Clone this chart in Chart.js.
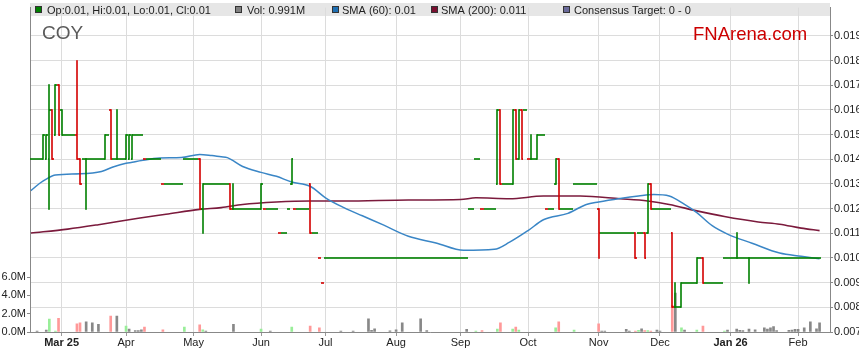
<!DOCTYPE html>
<html>
<head>
<meta charset="utf-8">
<script src="https://cdn.jsdelivr.net/npm/chart.js@4.4.1/dist/chart.umd.min.js"></script>
<style>
  html, body { margin: 0; padding: 0; background: #fff; }
  #wrap { width: 859px; height: 363px; }
</style>
</head>
<body>
<div id="wrap"><canvas id="chart" width="859" height="363"></canvas></div>
<script>
// Trading-day index 0 = 17 Feb 2025, one step per weekday
const monthTickIdx = [10, 31, 53, 75, 96, 119, 140, 162, 185, 205, 228, 250];
const monthTickLabels = ['Mar 25', 'Apr', 'May', 'Jun', 'Jul', 'Aug', 'Sep', 'Oct', 'Nov', 'Dec', 'Jan 26', 'Feb'];
const boldTickIdx = [10, 228];

const priceTicks = [0.007, 0.008, 0.009, 0.010, 0.011, 0.012, 0.013, 0.014, 0.015, 0.016, 0.017, 0.018, 0.019];
const volTicksM = [0, 2, 4, 6];

// Daily OHLC (A$)
const opens = [
  .014,.014,.014,.014,.014,.014,.014,.016,.015,.017,
  .016,.015,.015,.015,.015,.015,.014,.014,.014,.014,
  .014,.014,.014,.014,.014,.015,.016,.014,.014,.014,
  .014,.014,.014,.014,.015,.015,.015,.014,.014,.014,
  .014,.014,.014,.013,.013,.013,.013,.013,.013,.013,
  .014,.014,.014,.014,.014,.014,.012,.013,.013,.013,
  .013,.013,.013,.013,.013,.013,.012,.012,.012,.012,
  .012,.012,.012,.012,.012,.012,.012,.012,.012,.012,
  .012,.011,.011,.011,.012,.013,.012,.012,.012,.012,
  .012,.013,.011,.011,.010,.009,.010,.010,.010,.010,
  .010,.010,.010,.010,.010,.010,.010,.010,.010,.010,
  .010,.010,.010,.010,.010,.010,.010,.010,.010,.010,
  .010,.010,.010,.010,.010,.010,.010,.010,.010,.010,
  .010,.010,.010,.010,.010,.010,.010,.010,.010,.010,
  .010,.010,.010,.012,.012,.014,.014,.012,.012,.012,
  .012,.012,.013,.016,.013,.013,.013,.013,.016,.014,
  .016,.016,.014,.014,.014,.014,.015,.015,.012,.012,
  .012,.013,.014,.012,.012,.012,.012,.013,.013,.013,
  .013,.013,.013,.013,.013,.012,.011,.011,.011,.011,
  .011,.011,.011,.011,.011,.011,.011,.011,.011,.011,
  .011,.011,.013,.012,.012,.012,.012,.012,.012,.011,
  .008,.008,.008,.009,.009,.009,.009,.009,.010,.010,
  .009,.009,.009,.009,.009,.009,.010,.010,.010,.010,
  .010,.010,.010,.010,.010,.010,.010,.010,.010,.010,
  .010,.010,.010,.010,.010,.010,.010,.010,.010,.010,
  .010,.010,.010,.010,.010,.010,.010,.010
];
const highs = [
  .014,.014,.014,.014,.015,.015,.017,.016,.017,.017,
  .016,.015,.015,.015,.015,.018,.014,.014,.014,.014,
  .014,.014,.014,.014,.015,.015,.016,.014,.016,.014,
  .014,.015,.015,.015,.015,.015,.015,.014,.014,.014,
  .014,.014,.014,.013,.013,.013,.013,.013,.013,.013,
  .014,.014,.014,.014,.014,.014,.013,.013,.013,.013,
  .013,.013,.013,.013,.013,.013,.013,.012,.012,.012,
  .012,.012,.012,.012,.012,.013,.012,.012,.012,.012,
  .012,.011,.011,.011,.012,.014,.012,.012,.012,.012,
  .012,.013,.011,.011,.010,.009,.010,.010,.010,.010,
  .010,.010,.010,.010,.010,.010,.010,.010,.010,.010,
  .010,.010,.010,.010,.010,.010,.010,.010,.010,.010,
  .010,.010,.010,.010,.010,.010,.010,.010,.010,.010,
  .010,.010,.010,.010,.010,.010,.010,.010,.010,.010,
  .010,.010,.010,.012,.012,.014,.014,.012,.012,.012,
  .012,.012,.016,.016,.013,.013,.013,.016,.016,.016,
  .016,.016,.014,.015,.014,.015,.015,.015,.012,.012,
  .012,.014,.014,.012,.012,.012,.012,.013,.013,.013,
  .013,.013,.013,.013,.013,.012,.011,.011,.011,.011,
  .011,.011,.011,.011,.011,.011,.011,.011,.011,.011,
  .011,.013,.013,.012,.012,.012,.012,.012,.012,.011,
  .009,.008,.009,.009,.009,.009,.009,.010,.010,.010,
  .009,.009,.009,.009,.009,.009,.010,.010,.010,.010,
  .011,.010,.010,.010,.010,.010,.010,.010,.010,.010,
  .010,.010,.010,.010,.010,.010,.010,.010,.010,.010,
  .010,.010,.010,.010,.010,.010,.010,.010
];
const lows = [
  .014,.014,.014,.014,.014,.014,.012,.014,.015,.015,
  .015,.015,.015,.015,.015,.014,.013,.014,.012,.014,
  .014,.014,.014,.014,.014,.015,.014,.014,.014,.014,
  .014,.014,.014,.014,.015,.015,.015,.014,.014,.014,
  .014,.014,.014,.013,.013,.013,.013,.013,.013,.013,
  .014,.014,.014,.014,.014,.012,.011,.013,.013,.013,
  .013,.013,.013,.013,.013,.012,.012,.012,.012,.012,
  .012,.012,.012,.012,.012,.012,.012,.012,.012,.012,
  .012,.011,.011,.011,.012,.013,.012,.012,.012,.012,
  .012,.011,.011,.011,.010,.009,.010,.010,.010,.010,
  .010,.010,.010,.010,.010,.010,.010,.010,.010,.010,
  .010,.010,.010,.010,.010,.010,.010,.010,.010,.010,
  .010,.010,.010,.010,.010,.010,.010,.010,.010,.010,
  .010,.010,.010,.010,.010,.010,.010,.010,.010,.010,
  .010,.010,.010,.012,.012,.014,.014,.012,.012,.012,
  .012,.012,.013,.013,.013,.013,.013,.013,.014,.014,
  .014,.016,.014,.014,.014,.014,.015,.015,.012,.012,
  .012,.013,.012,.012,.012,.012,.012,.013,.013,.013,
  .013,.013,.013,.013,.013,.010,.011,.011,.011,.011,
  .011,.011,.011,.011,.011,.011,.011,.010,.011,.011,
  .010,.011,.012,.012,.012,.012,.012,.012,.012,.008,
  .008,.008,.008,.009,.009,.009,.009,.009,.010,.009,
  .009,.009,.009,.009,.009,.009,.010,.010,.010,.010,
  .010,.010,.010,.010,.009,.010,.010,.010,.010,.010,
  .010,.010,.010,.010,.010,.010,.010,.010,.010,.010,
  .010,.010,.010,.010,.010,.010,.010,.010
];
const closes = [
  .014,.014,.014,.014,.015,.015,.016,.014,.017,.015,
  .015,.015,.015,.015,.015,.014,.013,.014,.014,.014,
  .014,.014,.014,.014,.015,.015,.014,.014,.014,.014,
  .014,.015,.015,.015,.015,.015,.015,.014,.014,.014,
  .014,.014,.014,.013,.013,.013,.013,.013,.013,.013,
  .014,.014,.014,.014,.014,.012,.013,.013,.013,.013,
  .013,.013,.013,.013,.013,.012,.012,.012,.012,.012,
  .012,.012,.012,.012,.012,.013,.012,.012,.012,.012,
  .012,.011,.011,.011,.012,.014,.012,.012,.012,.012,
  .012,.011,.011,.011,.010,.009,.010,.010,.010,.010,
  .010,.010,.010,.010,.010,.010,.010,.010,.010,.010,
  .010,.010,.010,.010,.010,.010,.010,.010,.010,.010,
  .010,.010,.010,.010,.010,.010,.010,.010,.010,.010,
  .010,.010,.010,.010,.010,.010,.010,.010,.010,.010,
  .010,.010,.010,.012,.012,.014,.014,.012,.012,.012,
  .012,.012,.016,.013,.013,.013,.013,.016,.014,.016,
  .014,.016,.014,.014,.014,.015,.015,.015,.012,.012,
  .012,.014,.012,.012,.012,.012,.012,.013,.013,.013,
  .013,.013,.013,.013,.013,.011,.011,.011,.011,.011,
  .011,.011,.011,.011,.011,.011,.011,.010,.011,.011,
  .010,.013,.012,.012,.012,.012,.012,.012,.012,.008,
  .008,.008,.009,.009,.009,.009,.009,.010,.010,.009,
  .009,.009,.009,.009,.009,.009,.010,.010,.010,.010,
  .010,.010,.010,.010,.010,.010,.010,.010,.010,.010,
  .010,.010,.010,.010,.010,.010,.010,.010,.010,.010,
  .010,.010,.010,.010,.010,.010,.010,.010
];
// Daily volume, millions of shares
const volumesM = [
  0,0,0.1,0,0,0.2,1.4,0,0.1,1.5,
  0,0,0,0,0,0.9,1.0,0,1.1,0,
  1.0,0,0.85,0,0,0,1.75,0,1.75,0,
  0,0.65,0.33,0,0.15,0.15,0.25,0.55,0,0,
  0,0,0,0.25,0,0,0,0,0,0,
  0.55,0,0,0,0,0.78,0.25,0.1,0,0,
  0,0,0,0,0,0,0.85,0,0,0,
  0,0,0,0,0,0.33,0,0,0.1,0,
  0,0,0,0,0,0.55,0,0,0,0,
  0,0.65,0,0,0.45,0,0,0,0,0,
  0,0.1,0,0,0,0.1,0,0,0,0,
  1.45,0.18,0.35,0,0,0,0,0.12,0,0.25,
  0,1.0,0,0,0,0,0,1.45,0,0.15,
  0,0,0,0,0,0,0,0,0,0,
  0,0,0.3,0,0,0.1,0,0.15,0,0,
  0,0,0.33,1.0,0,0,0,0.33,0.55,0.2,
  0,0,0,0,0,0,0,0,0,0,
  0,0.45,1.1,0,0,0,0,0.22,0,0,
  0,0,0,0,0,0.88,0.1,0.1,0,0,
  0,0,0,0,0.3,0.1,0,0.1,0.18,0.35,
  0.15,0.15,0.1,0,0.2,0.1,0,0,0,2.9,
  4.25,0,0.45,0.2,0,0,0,0.2,0,0.65,
  0,0,0,0,0,0,0.1,0.2,0,0,
  0.33,0.18,0.15,0,0.33,0,0.25,0,0,0.45,
  0.33,0.45,0.58,0.15,0,0,0,0.18,0.22,0.3,
  0.3,0,0.45,0,1.1,0,0.35,1.0
];

// Moving averages at sample days
const sma60Idx = [0,3,5,8,16,23,27,31,33,36,42,49,55,59,62,64,69,75,80,85,91,96,102,108,115,123,132,141,151,156,162,167,175,181,185,192,198,203,208,213,217,222,227,235,244,251,257];
const sma60Val = [0.01273,0.01304,0.0132,0.01336,0.01341,0.01351,0.0137,0.01384,0.01388,0.01395,0.01405,0.01407,0.0142,0.01415,0.0141,0.01407,0.01371,0.01347,0.01331,0.01308,0.01291,0.01244,0.01204,0.01171,0.01133,0.01088,0.01061,0.01031,0.01035,0.01064,0.01111,0.01155,0.01181,0.01217,0.01227,0.01241,0.01251,0.01257,0.01251,0.01217,0.01184,0.01131,0.01097,0.0106,0.0102,0.01007,0.00997];
const sma200Idx = [0,12,22,35,44,55,62,69,80,91,102,123,140,145,156,167,179,192,201,208,217,226,237,244,251,257];
const sma200Val = [0.01101,0.01117,0.01135,0.01161,0.01177,0.01197,0.01204,0.01217,0.01227,0.01231,0.01231,0.01235,0.01237,0.01244,0.0124,0.01251,0.01251,0.0124,0.01231,0.01217,0.01191,0.01168,0.01146,0.01137,0.01121,0.01111];

const legendItems = [
  { sq: 35, tx: 47, color: '#008000', text: 'Op:0.01, Hi:0.01, Lo:0.01, Cl:0.01' },
  { sq: 235, tx: 247, color: '#808080', text: 'Vol: 0.991M' },
  { sq: 332, tx: 342, color: '#1f6fb2', text: 'SMA (60): 0.01' },
  { sq: 431, tx: 441, color: '#7a0f30', text: 'SMA (200): 0.011' },
  { sq: 563, tx: 574, color: '#6a6a9a', text: 'Consensus Target: 0 - 0' }
];

const FONT = '"Liberation Sans", Arial, sans-serif';
const UP = '#008000', DOWN = '#d40000';
const BAR_W = 1.6;

function dayDir(i) {
  if (i === 0) return 0;
  if (closes[i] > closes[i - 1]) return 1;
  if (closes[i] < closes[i - 1]) return -1;
  return 0;
}

const volData = [];
volumesM.forEach((v, i) => { if (v > 0) volData.push({ x: i, y: v }); });

const fnaPlugin = {
  id: 'fna',
  beforeDraw(chart) {
    const { ctx, chartArea } = chart;
    ctx.save();
    ctx.fillStyle = '#e6e6e6';
    ctx.fillRect(chartArea.left, 3, chartArea.right - chartArea.left, 13);
    ctx.restore();
  },
  afterDatasetsDraw(chart) {
    const { ctx, chartArea, scales } = chart;
    const x = scales.x, y = scales.yPrice;
    const half = (x.getPixelForValue(1) - x.getPixelForValue(0)) / 2;
    const hw = BAR_W / 2;
    const py = v => Math.round(y.getPixelForValue(v));
    ctx.save();
    ctx.beginPath();
    ctx.rect(chartArea.left, chartArea.top, chartArea.right - chartArea.left, chartArea.bottom - chartArea.top);
    ctx.clip();
    for (let i = 0; i < closes.length; i++) {
      ctx.fillStyle = dayDir(i) < 0 ? DOWN : UP;
      const px = x.getPixelForValue(i);
      const xm = Math.round(px), xl = Math.round(px - half), xr = Math.round(px + half);
      const yH = py(highs[i]), yL = py(lows[i]), yO = py(opens[i]), yC = py(closes[i]);
      if (yL > yH) ctx.fillRect(xm - hw, yH - hw, BAR_W, yL - yH + BAR_W);
      ctx.fillRect(xl, yO - hw, Math.max(xm - xl, 1), BAR_W);
      ctx.fillRect(xm, yC - hw, Math.max(xr - xm, 1), BAR_W);
    }
    ctx.restore();
  },
  afterDraw(chart) {
    const { ctx } = chart;
    ctx.save();
    ctx.font = '11px ' + FONT;
    ctx.textBaseline = 'alphabetic';
    legendItems.forEach(it => {
      ctx.fillStyle = it.color;
      ctx.fillRect(it.sq, 7, 6, 6);
      ctx.strokeStyle = '#333';
      ctx.lineWidth = 1;
      ctx.strokeRect(it.sq + 0.5, 6.5, 6, 6);
      ctx.fillStyle = '#222';
      ctx.fillText(it.text, it.tx, 14);
    });
    ctx.font = '19px ' + FONT;
    ctx.fillStyle = '#5a5a5a';
    ctx.fillText('COY', 42, 39);
    ctx.font = '18.5px ' + FONT;
    ctx.fillStyle = '#cc0000';
    ctx.fillText('FNArena.com', 693, 39.5);
    ctx.restore();
  }
};

new Chart(document.getElementById('chart'), {
  type: 'bar',
  data: {
    datasets: [
      {
        type: 'line',
        label: 'SMA (60)',
        yAxisID: 'yPrice',
        data: sma60Idx.map((d, k) => ({ x: d, y: sma60Val[k] })),
        borderColor: '#3a86c6',
        borderWidth: 1.5,
        pointRadius: 0,
        cubicInterpolationMode: 'monotone',
        order: 1
      },
      {
        type: 'line',
        label: 'SMA (200)',
        yAxisID: 'yPrice',
        data: sma200Idx.map((d, k) => ({ x: d, y: sma200Val[k] })),
        borderColor: '#7b1a3c',
        borderWidth: 1.6,
        pointRadius: 0,
        cubicInterpolationMode: 'monotone',
        order: 2
      },
      {
        type: 'bar',
        label: 'Vol',
        yAxisID: 'yVol',
        data: volData,
        backgroundColor: c => {
          const d = c.raw ? dayDir(c.raw.x) : 0;
          return d > 0 ? '#99ee99' : d < 0 ? '#ff9999' : '#888888';
        },
        barThickness: 2,
        order: 3
      }
    ]
  },
  options: {
    responsive: false,
    animation: false,
    events: [],
    devicePixelRatio: 1,
    layout: { padding: { top: 3, left: 0, right: 0, bottom: 0 } },
    plugins: { legend: { display: false }, tooltip: { enabled: false } },
    scales: {
      x: {
        type: 'linear',
        min: -0.3,
        max: 260.4,
        offset: false,
        afterBuildTicks: s => { s.ticks = monthTickIdx.map(v => ({ value: v })); },
        afterFit: s => { s.height = 31; },
        ticks: {
          autoSkip: false,
          maxRotation: 0,
          padding: 0,
          color: '#222',
          font: c => ({ family: FONT, size: 11, weight: (c.tick && boldTickIdx.includes(c.tick.value)) ? 'bold' : 'normal' }),
          callback: v => monthTickLabels[monthTickIdx.indexOf(v)]
        },
        grid: { color: '#dcdcdc', tickColor: '#999', tickLength: 4, offset: false },
        border: { color: '#888' }
      },
      yPrice: {
        type: 'linear',
        position: 'right',
        min: 0.007,
        max: 0.02015,
        afterBuildTicks: s => { s.ticks = priceTicks.map(v => ({ value: v })); },
        afterFit: s => { s.width = 29; },
        ticks: { padding: 1, color: '#222', font: { family: FONT, size: 11 }, callback: v => v.toFixed(3) },
        grid: { color: '#dcdcdc', tickColor: '#888', tickLength: 3 },
        border: { color: '#888' }
      },
      yVol: {
        type: 'linear',
        position: 'left',
        min: 0,
        max: 35.45,
        afterBuildTicks: s => { s.ticks = volTicksM.map(v => ({ value: v })); },
        afterFit: s => { s.width = 30; },
        ticks: { padding: 1, color: '#222', font: { family: FONT, size: 11 }, callback: v => v.toFixed(1) + 'M' },
        grid: { drawOnChartArea: false, tickColor: '#888', tickLength: 3 },
        border: { color: '#888' }
      }
    }
  },
  plugins: [fnaPlugin]
});
</script>
</body>
</html>
